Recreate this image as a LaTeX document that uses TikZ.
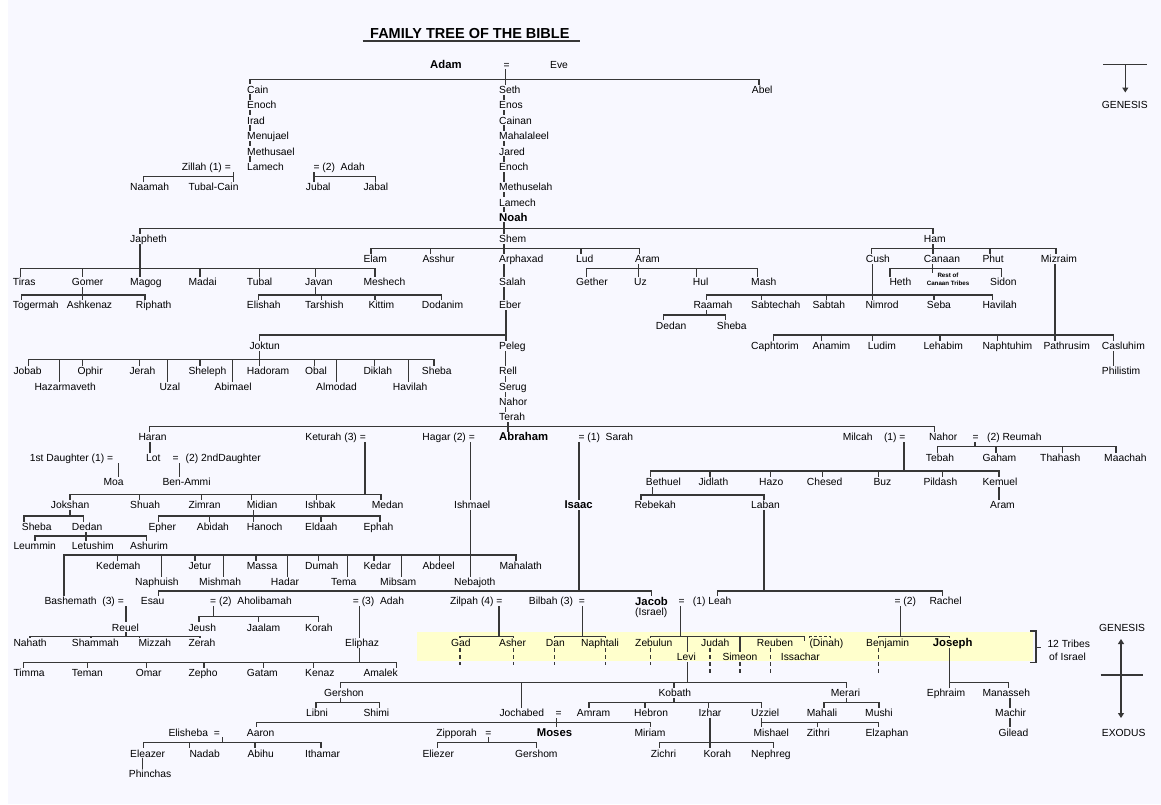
\documentclass[tikz,border=0pt]{standalone}
\usepackage{fontspec}
\setmainfont{Liberation Sans}
\usetikzlibrary{arrows.meta}
\definecolor{bgc}{RGB}{248,248,255}
\definecolor{band}{RGB}{255,255,204}
\definecolor{lnc}{RGB}{55,55,55}
\newcommand\fz{\fontsize{10.3}{12}\selectfont}
\newcommand\fbd{\fontsize{11.3}{13}\selectfont\bfseries}
\newcommand\Dn[3]{\draw[ln] (#2,#3) -- (#2,0 |- #1.north);}
\newcommand\Up[3]{\draw[ln] (#2,0 |- #1.south) -- (#2,#3);}
\newcommand\Hb[3]{\draw[ln] (#1,#3) -- (#2,#3);}
\newcommand\Lk[3]{\draw[ln] (#1,0 |- #2.south) -- (#1,0 |- #3.north);}
\begin{document}
\begin{tikzpicture}[x=1pt,y=-1pt,
  ln/.style={draw=lnc,line width=1.1pt,line cap=rect},
  dsh/.style={draw=lnc,line width=1.1pt,line cap=butt,dash pattern=on 4pt off 3pt},
  nm/.style={anchor=west,inner xsep=0pt,inner ysep=1.5pt,text height=7.4pt,text depth=0pt,font=\fz,text=black},
  nme/.style={nm,anchor=east},
  bd/.style={nm,text height=8.1pt,font=\fbd},
  tip/.style={-{Triangle[length=5pt,width=6pt]}}]
\useasboundingbox (0,0) rectangle (1161,804);
\fill[white] (0,0) rectangle (1161,804);
\fill[bgc] (7.5,0) rectangle (1161,804);
\fill[band] (417.3,632.3) rectangle (1033.3,661);

% title
\node[anchor=west,inner sep=0pt,font=\fontsize{14.5}{16}\selectfont\bfseries] (title) at (370,33.3) {FAMILY TREE OF THE BIBLE};
\draw[draw=lnc,line width=1.3pt] (362.7,41) -- (580,41);

% Adam and Eve
\node[bd] (adam) at (430,64.3) {Adam};
\node[nm] (eq0) at (503.5,64.3) {=};
\node[nm] (eve) at (550,64.3) {Eve};
\node[nm] (cain) at (247,89.3) {Cain};
\node[nm] (enochA) at (247,105) {Enoch};
\node[nm] (irad) at (247,120.3) {Irad};
\node[nm] (menujael) at (247,136) {Menujael};
\node[nm] (methusael) at (247,151.3) {Methusael};
\node[nm] (lamechA) at (247,166.7) {Lamech};
\node[nm] (seth) at (499,89.7) {Seth};
\node[nm] (enos) at (499,105) {Enos};
\node[nm] (cainan) at (499,120.3) {Cainan};
\node[nm] (mahalaleel) at (499,136) {Mahalaleel};
\node[nm] (jared) at (499,151.3) {Jared};
\node[nm] (enochB) at (499,166.7) {Enoch};
\node[nm] (methuselah) at (499,186.7) {Methuselah};
\node[nm] (lamechB) at (499,202.3) {Lamech};
\node[bd] (noah) at (499,217) {Noah};
\node[nm] (abel) at (751.7,89.7) {Abel};
\node[nme] (zillah) at (231,166.7) {Zillah (1) =};
\node[nm] (adahA) at (313.3,166.7) {= (2)~~Adah};
\node[nm] (naamah) at (130,186.7) {Naamah};
\node[nm] (tubalcain) at (188.3,186.7) {Tubal-Cain};
\node[nm] (jubal) at (305.7,186.7) {Jubal};
\node[nm] (jabal) at (363.3,186.7) {Jabal};

\Lk{505.3}{eq0}{seth}
\Hb{250}{759}{79.3}
\Dn{cain}{250}{79.3}
\Dn{abel}{759}{79.3}
\Lk{250}{cain}{enochA}
\Lk{250}{enochA}{irad}
\Lk{250}{irad}{menujael}
\Lk{250}{menujael}{methusael}
\Lk{250}{methusael}{lamechA}
\Lk{504}{seth}{enos}
\Lk{504}{enos}{cainan}
\Lk{504}{cainan}{mahalaleel}
\Lk{504}{mahalaleel}{jared}
\Lk{504}{jared}{enochB}
\Lk{504}{enochB}{methuselah}
\Lk{504}{methuselah}{lamechB}
\Lk{504}{lamechB}{noah}
\Up{zillah}{233.3}{176.7}
\Hb{143.3}{233.3}{176.7}
\Dn{naamah}{143.3}{176.7}
\Dn{tubalcain}{233.3}{176.7}
\Up{adahA}{314}{176.7}
\Hb{314}{375.7}{176.7}
\Dn{jubal}{314}{176.7}
\Dn{jabal}{375.7}{176.7}

% Noah's sons
\node[nm] (japheth) at (130,239) {Japheth};
\node[nm] (shem) at (499,239) {Shem};
\node[nm] (ham) at (923.7,239) {Ham};
\Lk{504}{noah}{shem}
\Hb{140}{933}{228.3}
\Dn{japheth}{140}{228.3}
\Dn{ham}{933}{228.3}

% Japheth
\node[nm] (tiras) at (12.7,281.7) {Tiras};
\node[nm] (gomer) at (71.7,281.7) {Gomer};
\node[nm] (magog) at (130,281.7) {Magog};
\node[nm] (madai) at (188.3,281.7) {Madai};
\node[nm] (tubal) at (246.7,281.7) {Tubal};
\node[nm] (javan) at (305,281.7) {Javan};
\node[nm] (meshech) at (363.3,281.7) {Meshech};
\Up{japheth}{140}{268.3}
\Hb{20.7}{375}{268.3}
\Dn{tiras}{20.7}{268.3}
\Dn{gomer}{82.7}{268.3}
\Dn{magog}{140}{268.3}
\Dn{madai}{200}{268.3}
\Dn{tubal}{259.7}{268.3}
\Dn{javan}{315.3}{268.3}
\Dn{meshech}{375}{268.3}
\node[nm] (togermah) at (12.7,305) {Togermah};
\node[nm] (ashkenaz) at (66.7,305) {Ashkenaz};
\node[nm] (riphath) at (135.7,305) {Riphath};
\Up{gomer}{82.7}{295}
\Hb{21.7}{145}{295}
\Dn{togermah}{21.7}{295}
\Dn{ashkenaz}{82.7}{295}
\Dn{riphath}{145}{295}
\node[nm] (elishah) at (246.7,305) {Elishah};
\node[nm] (tarshish) at (305,305) {Tarshish};
\node[nm] (kittim) at (368.3,305) {Kittim};
\node[nm] (dodanim) at (421.7,305) {Dodanim};
\Up{javan}{315.3}{295}
\Hb{258.3}{441.7}{295}
\Dn{elishah}{258.3}{295}
\Dn{tarshish}{321.7}{295}
\Dn{kittim}{375}{295}
\Dn{dodanim}{441.7}{295}

% Shem
\node[nm] (elam) at (363.3,258.7) {Elam};
\node[nm] (asshur) at (422.3,258.7) {Asshur};
\node[nm] (arphaxad) at (499,258.7) {Arphaxad};
\node[nm] (lud) at (576,258.7) {Lud};
\node[nm] (aramA) at (635,258.7) {Aram};
\Lk{504}{shem}{arphaxad}
\Hb{371}{639.3}{248.3}
\Dn{elam}{371}{248.3}
\Dn{asshur}{430.7}{248.3}
\Dn{lud}{581}{248.3}
\Dn{aramA}{639.3}{248.3}
\node[nm] (gether) at (576,281.7) {Gether};
\node[nm] (uz) at (634,281.7) {Uz};
\node[nm] (hul) at (692.7,281.7) {Hul};
\node[nm] (mash) at (751,281.7) {Mash};
\Up{aramA}{638.3}{268.3}
\Hb{586.7}{757.7}{268.3}
\Dn{gether}{586.7}{268.3}
\Dn{uz}{638.3}{268.3}
\Dn{hul}{696.7}{268.3}
\Dn{mash}{757.7}{268.3}
\node[nm] (salah) at (499,281.7) {Salah};
\node[nm] (eber) at (499,305) {Eber};
\Lk{504}{arphaxad}{salah}
\Lk{504}{salah}{eber}
\node[nm] (peleg) at (499,346) {Peleg};
\node[nm] (joktun) at (249.3,346) {Joktun};
\Lk{506}{eber}{peleg}
\Hb{259.3}{506}{335}
\Dn{joktun}{259.3}{335}

% Joktun
\node[nm] (jobab) at (13.3,370.7) {Jobab};
\node[nm] (ophir) at (77.3,370.7) {Ophir};
\node[nm] (jerah) at (129.3,370.7) {Jerah};
\node[nm] (sheleph) at (188.3,370.7) {Sheleph};
\node[nm] (hadoram) at (246.7,370.7) {Hadoram};
\node[nm] (obal) at (305,370.7) {Obal};
\node[nm] (diklah) at (363.3,370.7) {Diklah};
\node[nm] (shebaA) at (421.7,370.7) {Sheba};
\node[nm] (hazarmaveth) at (34.3,386.7) {Hazarmaveth};
\node[nm] (uzal) at (159.3,386.7) {Uzal};
\node[nm] (abimael) at (214.3,386.7) {Abimael};
\node[nm] (almodad) at (316,386.7) {Almodad};
\node[nm] (havilahA) at (392.7,386.7) {Havilah};
\Lk{259.3}{joktun}{hadoram}
\Hb{28.3}{434}{359.3}
\Dn{jobab}{28.3}{359.3}
\Dn{ophir}{82.3}{359.3}
\Dn{jerah}{139.3}{359.3}
\Dn{sheleph}{200}{359.3}
\Dn{obal}{314.3}{359.3}
\Dn{diklah}{374.3}{359.3}
\Dn{shebaA}{434}{359.3}
\Dn{hazarmaveth}{59.3}{359.3}
\Dn{uzal}{167.7}{359.3}
\Dn{abimael}{232.7}{359.3}
\Dn{almodad}{336.7}{359.3}
\Dn{havilahA}{408.3}{359.3}

% Peleg to Terah
\node[nm] (rell) at (499,370.7) {Rell};
\node[nm] (serug) at (499,386.7) {Serug};
\node[nm] (nahorA) at (499,401.7) {Nahor};
\node[nm] (terah) at (499,417) {Terah};
\Lk{505.7}{peleg}{rell}
\Lk{505.7}{rell}{serug}
\Lk{505.7}{serug}{nahorA}
\Lk{505.7}{nahorA}{terah}

% Terah's generation
\node[nm] (haran) at (138.3,436.7) {Haran};
\node[nme] (keturah) at (366,436.7) {Keturah (3) =};
\node[nme] (hagar) at (475,436.7) {Hagar (2) =};
\node[bd] (abraham) at (499,436.7) {Abraham};
\node[nm] (sarah) at (578.3,436.7) {= (1)~~Sarah};
\node[nme] (milcah) at (905.7,436.7) {Milcah~~~~(1) =};
\node[nm] (nahorB) at (929,436.7) {Nahor};
\node[nm] (reumah) at (972.3,436.7) {=~~~(2) Reumah};
\Lk{508}{terah}{abraham}
\Hb{149.3}{934.3}{426.7}
\Dn{haran}{149.3}{426.7}
\Dn{nahorB}{934.3}{426.7}

% Lot
\node[nm] (lot) at (146,457.7) {Lot};
\node[nm] (lotw) at (172.5,457.7) {=\hspace{7pt}(2) 2ndDaughter};
\node[nme] (daughter) at (113.3,457.7) {1st Daughter (1) =};
\node[nm] (moa) at (103.3,481.7) {Moa};
\node[nm] (benammi) at (162.3,481.7) {Ben-Ammi};
\Lk{150}{haran}{lot}
\Lk{118.3}{daughter}{moa}
\Lk{179.3}{lotw}{benammi}

% Keturah
\node[nm] (jokshan) at (50.7,504.7) {Jokshan};
\node[nm] (shuah) at (130,504.7) {Shuah};
\node[nm] (zimran) at (188.3,504.7) {Zimran};
\node[nm] (midian) at (246.7,504.7) {Midian};
\node[nm] (ishbak) at (305,504.7) {Ishbak};
\node[nm] (medan) at (371.7,504.7) {Medan};
\Up{keturah}{365}{494.3}
\Hb{70}{381}{494.3}
\Dn{jokshan}{70}{494.3}
\Dn{shuah}{139.3}{494.3}
\Dn{zimran}{201.7}{494.3}
\Dn{midian}{251.7}{494.3}
\Dn{ishbak}{316.7}{494.3}
\Dn{medan}{381}{494.3}
\node[nm] (shebaB) at (21.7,526.7) {Sheba};
\node[nm] (dedanA) at (71.7,526.7) {Dedan};
\Up{jokshan}{70}{516}
\Hb{24}{83.3}{516}
\Dn{shebaB}{24}{516}
\Dn{dedanA}{83.3}{516}
\node[nm] (leummin) at (13.3,546) {Leummin};
\node[nm] (letushim) at (71.7,546) {Letushim};
\node[nm] (ashurim) at (130,546) {Ashurim};
\Up{dedanA}{86}{536}
\Hb{35}{146.7}{536}
\Dn{leummin}{35}{536}
\Dn{letushim}{86}{536}
\Dn{ashurim}{146.7}{536}
\node[nm] (epher) at (148.3,526.7) {Epher};
\node[nm] (abidah) at (196.7,526.7) {Abidah};
\node[nm] (hanoch) at (246.7,526.7) {Hanoch};
\node[nm] (eldaah) at (305,526.7) {Eldaah};
\node[nm] (ephah) at (363.3,526.7) {Ephah};
\Up{midian}{253.3}{516}
\Hb{158.3}{380}{516}
\Dn{epher}{158.3}{516}
\Dn{abidah}{209.3}{516}
\Dn{hanoch}{253.3}{516}
\Dn{eldaah}{321}{516}
\Dn{ephah}{380}{516}

% Ishmael
\node[nm] (ishmael) at (454,504.7) {Ishmael};
\Lk{470.7}{hagar}{ishmael}
\Up{ishmael}{470.7}{555}
\Hb{64}{516}{555}
\node[nm] (kedemah) at (96,566) {Kedemah};
\node[nm] (jetur) at (188.3,566) {Jetur};
\node[nm] (massa) at (246.7,566) {Massa};
\node[nm] (dumah) at (305,566) {Dumah};
\node[nm] (kedar) at (363.3,566) {Kedar};
\node[nm] (abdeel) at (422.3,566) {Abdeel};
\node[nm] (mahalath) at (499.3,566) {Mahalath};
\node[nm] (naphuish) at (135,582) {Naphuish};
\node[nm] (mishmah) at (199,582) {Mishmah};
\node[nm] (hadar) at (270.7,582) {Hadar};
\node[nm] (tema) at (331,582) {Tema};
\node[nm] (mibsam) at (380,582) {Mibsam};
\node[nm] (nebajoth) at (454,582) {Nebajoth};
\Dn{kedemah}{117.3}{555}
\Dn{jetur}{195}{555}
\Dn{massa}{256}{555}
\Dn{dumah}{318.3}{555}
\Dn{kedar}{374}{555}
\Dn{abdeel}{439.3}{555}
\Dn{mahalath}{516}{555}
\Dn{naphuish}{161.7}{555}
\Dn{mishmah}{223.3}{555}
\Dn{hadar}{287.3}{555}
\Dn{tema}{347.7}{555}
\Dn{mibsam}{401.7}{555}
\Dn{nebajoth}{470.7}{555}
\node[nme] (bashemath) at (124,601) {Bashemath~~(3) =};
\Dn{bashemath}{64}{555}

% Isaac
\node[bd] (isaac) at (564.3,504.7) {Isaac};
\Lk{579}{sarah}{isaac}
\Up{isaac}{579}{591}
\Hb{158.3}{651.7}{591}
\node[nm] (esau) at (140.7,601) {Esau};
\node[bd] (jacob) at (635,601) {Jacob};
\node[nm] (israel) at (635,612) {(Israel)};
\node[nm] (jeq) at (678.5,601) {=};
\node[nm] (leah) at (692.7,601) {(1) Leah};
\node[nm] (req) at (894.3,601) {= (2)};
\node[nm] (rachel) at (929.3,601) {Rachel};
\Dn{esau}{158.3}{591}
\Dn{jacob}{651.7}{591}

% Nahor and Milcah
\node[nm] (bethuel) at (645.7,481.7) {Bethuel};
\node[nm] (jidlath) at (698.3,481.7) {Jidlath};
\node[nm] (hazo) at (759,481.7) {Hazo};
\node[nm] (chesed) at (806.7,481.7) {Chesed};
\node[nm] (buz) at (873.3,481.7) {Buz};
\node[nm] (pildash) at (923.3,481.7) {Pildash};
\node[nm] (kemuel) at (982.3,481.7) {Kemuel};
\node[nm] (aramB) at (990,504.7) {Aram};
\Up{milcah}{904}{471}
\Hb{650.7}{999}{471}
\Dn{bethuel}{650.7}{471}
\Dn{jidlath}{710}{471}
\Dn{hazo}{770.7}{471}
\Dn{chesed}{822.7}{471}
\Dn{buz}{878.3}{471}
\Dn{pildash}{942.3}{471}
\Dn{kemuel}{999}{471}
\Lk{999}{kemuel}{aramB}
\node[nm] (rebekah) at (634.3,504.7) {Rebekah};
\node[nm] (laban) at (751,504.7) {Laban};
\Up{bethuel}{652.7}{495}
\Hb{641}{764}{495}
\Dn{rebekah}{641}{495}
\Dn{laban}{764}{495}
\Up{laban}{764}{591}
\Hb{717.7}{942.7}{591}
\Dn{leah}{717.7}{591}
\Dn{rachel}{942.7}{591}

% Nahor and Reumah
\node[nm] (tebah) at (925.7,457.7) {Tebah};
\node[nm] (gaham) at (982.3,457.7) {Gaham};
\node[nm] (thahash) at (1040,457.7) {Thahash};
\node[nm] (maachah) at (1104,457.7) {Maachah};
\Up{reumah}{975}{446.7}
\Hb{937.7}{1116}{446.7}
\Dn{tebah}{937.7}{446.7}
\Dn{gaham}{996}{446.7}
\Dn{thahash}{1062.7}{446.7}
\Dn{maachah}{1116}{446.7}

% Esau's wives
\node[nm] (aholibamah) at (210,601) {= (2)~~Aholibamah};
\node[nm] (adahB) at (352.7,601) {= (3)~~Adah};
\node[nm] (reuel) at (111.7,627.3) {Reuel};
\Lk{126}{bashemath}{reuel}
\Up{reuel}{126}{636.7}
\Hb{30}{200}{636.7}
\node[nm] (nahath) at (13.3,642.7) {Nahath};
\node[nm] (shammah) at (71.7,642.7) {Shammah};
\node[nm] (mizzah) at (138.3,642.7) {Mizzah};
\node[nm] (zerah) at (188.3,642.7) {Zerah};
\Dn{nahath}{30}{636.7}
\Dn{shammah}{91}{636.7}
\Dn{mizzah}{139.3}{636.7}
\Dn{zerah}{200}{636.7}
\node[nm] (jeush) at (188.3,627.3) {Jeush};
\node[nm] (jaalam) at (246.7,627.3) {Jaalam};
\node[nm] (korahA) at (305,627.3) {Korah};
\Up{aholibamah}{213.3}{616.7}
\Hb{199}{318.3}{616.7}
\Dn{jeush}{199}{616.7}
\Dn{jaalam}{258.3}{616.7}
\Dn{korahA}{318.3}{616.7}
\node[nm] (eliphaz) at (345,642.7) {Eliphaz};
\Lk{359.3}{adahB}{eliphaz}
\Up{eliphaz}{359.3}{662.7}
\Hb{23.3}{396.7}{662.7}
\node[nm] (timma) at (13.3,672.7) {Timma};
\node[nm] (teman) at (71.7,672.7) {Teman};
\node[nm] (omar) at (135.7,672.7) {Omar};
\node[nm] (zepho) at (188.3,672.7) {Zepho};
\node[nm] (gatam) at (246.7,672.7) {Gatam};
\node[nm] (kenaz) at (305,672.7) {Kenaz};
\node[nm] (amalek) at (363.3,672.7) {Amalek};
\Dn{timma}{23.3}{662.7}
\Dn{teman}{87.3}{662.7}
\Dn{omar}{146.7}{662.7}
\Dn{zepho}{204}{662.7}
\Dn{gatam}{263.3}{662.7}
\Dn{kenaz}{313.3}{662.7}
\Dn{amalek}{396.7}{662.7}

% Jacob's wives and the 12 tribes
\node[nme] (zilpah) at (502.7,601) {Zilpah (4) =};
\node[nme] (bilhah) at (585,601) {Bilbah (3)~~=};
\node[nm] (gad) at (451,642.7) {Gad};
\node[nm] (asher) at (499,642.7) {Asher};
\node[nm] (dan) at (545.7,642.7) {Dan};
\node[nm] (naphtali) at (581,642.7) {Naphtali};
\node[nm] (zebulun) at (635,642.7) {Zebulun};
\node[nm] (judah) at (701,642.7) {Judah};
\node[nm] (reuben) at (756.7,642.7) {Reuben};
\node[nm] (dinah) at (809.3,642.7) {(Dinah)};
\node[nm] (benjamin) at (866,642.7) {Benjamin};
\node[bd] (joseph) at (932.7,642.7) {Joseph};
\node[nm] (levi) at (676.7,656.7) {Levi};
\node[nm] (simeon) at (722.3,656.7) {Simeon};
\node[nm] (issachar) at (780.7,656.7) {Issachar};
\Up{zilpah}{499}{636.7}
\Hb{460}{513.3}{636.7}
\Dn{gad}{460}{636.7}
\Dn{asher}{513.3}{636.7}
\Up{bilhah}{582.3}{636.7}
\Hb{554.3}{605.3}{636.7}
\Dn{dan}{554.3}{636.7}
\Dn{naphtali}{605.3}{636.7}
\Up{jeq}{680.7}{636.7}
\Hb{650.7}{804.3}{636.7}
\Dn{zebulun}{650.7}{636.7}
\Dn{levi}{687.3}{636.7}
\Dn{simeon}{740}{636.7}
\coordinate (isstick) at (804.3,640.5);
\draw[ln] (804.3,636.7) -- (isstick);
\draw[dsh,dash pattern=on 3pt off 2pt] (809.3,0 |- dinah.north) -- (809.3,636.7) -- (830.7,636.7) -- (830.7,0 |- dinah.north);
\Up{req}{900.7}{636.7}
\Hb{878.3}{949.3}{636.7}
\Dn{benjamin}{878.3}{636.7}
\Dn{joseph}{949.3}{636.7}
\draw[dsh] (460,0 |- gad.south) -- (460,665);
\draw[dsh] (513.3,0 |- asher.south) -- (513.3,665);
\draw[dsh] (554.3,0 |- dan.south) -- (554.3,665);
\draw[dsh] (605.3,0 |- naphtali.south) -- (605.3,665);
\draw[dsh] (650.7,0 |- zebulun.south) -- (650.7,665);
\draw[dsh] (710,0 |- judah.south) -- (710,675);
\draw[dsh] (740,0 |- simeon.south) -- (740,675);
\draw[dsh] (770.7,0 |- reuben.south) -- (770.7,675);
\draw[dsh] (878.3,0 |- benjamin.south) -- (878.3,675);

% bracket
\node[nm] (tribes1) at (1047.3,643.3) {12 Tribes};
\node[nm] (tribes2) at (1049,656.7) {of Israel};
\draw[ln,line cap=butt] (1030,631) -- (1036,631) -- (1036,662.7) -- (1030,662.7);
\draw[ln,line cap=butt] (1036,647.7) -- (1041,647.7);

% Joseph's sons
\node[nm] (ephraim) at (926.7,692.7) {Ephraim};
\node[nm] (manasseh) at (982.3,692.7) {Manasseh};
\node[nm] (machir) at (995,712.7) {Machir};
\node[nm] (gilead) at (998.3,732.3) {Gilead};
\Lk{949.3}{joseph}{ephraim}
\Hb{949.3}{1008.3}{682.7}
\Dn{manasseh}{1008.3}{682.7}
\Lk{1010}{manasseh}{machir}
\Lk{1010}{machir}{gilead}

% Levi
\node[nm] (gershon) at (324,692.7) {Gershon};
\node[nm] (kohath) at (658.3,692.7) {Kobath};
\node[nm] (merari) at (830.7,692.7) {Merari};
\node[nm] (jochabed) at (499.3,712.7) {Jochabed};
\Up{levi}{687.3}{682.3}
\Hb{340.7}{846.7}{682.3}
\Dn{gershon}{340.7}{682.3}
\Dn{jochabed}{521.7}{682.3}
\Dn{kohath}{674}{682.3}
\Dn{merari}{846.7}{682.3}
\node[nm] (libni) at (306,712.7) {Libni};
\node[nm] (shimi) at (363.3,712.7) {Shimi};
\Up{gershon}{340.7}{702.7}
\Hb{316}{379.3}{702.7}
\Dn{libni}{316}{702.7}
\Dn{shimi}{379.3}{702.7}
\node[nm] (amram) at (576.7,712.7) {Amram};
\node[nm] (hebron) at (634,712.7) {Hebron};
\node[nm] (izhar) at (698.3,712.7) {Izhar};
\node[nm] (uzziel) at (751,712.7) {Uzziel};
\Up{kohath}{674}{702.7}
\Hb{589}{761.7}{702.7}
\Dn{amram}{589}{702.7}
\Dn{hebron}{645}{702.7}
\Dn{izhar}{708.3}{702.7}
\Dn{uzziel}{761.7}{702.7}
\node[nm] (mahali) at (806.7,712.7) {Mahali};
\node[nm] (mushi) at (865,712.7) {Mushi};
\Up{merari}{846.7}{702.7}
\Hb{824}{879}{702.7}
\Dn{mahali}{824}{702.7}
\Dn{mushi}{879}{702.7}

% Amram and Jochabed
\node[nm] (jeqB) at (555.3,712.7) {=};
\node[bd] (moses) at (536.7,732.3) {Moses};
\node[nm] (aaron) at (246.7,732.3) {Aaron};
\node[nm] (miriam) at (634.3,732.3) {Miriam};
\Lk{556.7}{jeqB}{moses}
\Hb{256.7}{650.7}{722.3}
\Dn{aaron}{256.7}{722.3}
\Dn{miriam}{650.7}{722.3}

% Uzziel, Izhar
\node[nm] (mishael) at (753.3,732.3) {Mishael};
\node[nm] (zithri) at (806.7,732.3) {Zithri};
\node[nm] (elzaphan) at (865.3,732.3) {Elzaphan};
\Lk{761.7}{uzziel}{mishael}
\Hb{761.7}{878.3}{722.3}
\Dn{zithri}{817.3}{722.3}
\Dn{elzaphan}{878.3}{722.3}
\node[nm] (zichri) at (650.7,753.3) {Zichri};
\node[nm] (korahB) at (703.3,753.3) {Korah};
\node[nm] (nephreg) at (751,753.3) {Nephreg};
\Lk{710}{izhar}{korahB}
\Hb{659.3}{773.3}{742.7}
\Dn{zichri}{659.3}{742.7}
\Dn{nephreg}{773.3}{742.7}

% Aaron
\node[nme] (elisheba) at (220,732.3) {Elisheba~~=};
\node[nm] (eleazar) at (130,753.3) {Eleazer};
\node[nm] (nadab) at (189.3,753.3) {Nadab};
\node[nm] (abihu) at (247.3,753.3) {Abihu};
\node[nm] (ithamar) at (305,753.3) {Ithamar};
\node[nm] (phinchas) at (128.7,774) {Phinchas};
\Up{elisheba}{222.7}{742.7}
\Hb{143.3}{321}{742.7}
\Dn{eleazar}{143.3}{742.7}
\Dn{nadab}{189.3}{742.7}
\Dn{abihu}{255}{742.7}
\Dn{ithamar}{321}{742.7}
\Lk{142.7}{eleazar}{phinchas}

% Moses
\node[nme] (zipporah) at (491.7,732.3) {Zipporah~~~=};
\node[nm] (eliezer) at (422.3,753.3) {Eliezer};
\node[nm] (gershom) at (515,753.3) {Gershom};
\Up{zipporah}{488.3}{742.7}
\Hb{437.3}{536.7}{742.7}
\Dn{eliezer}{437.3}{742.7}
\Dn{gershom}{536.7}{742.7}

% Ham
\node[nm] (cush) at (865.7,258.7) {Cush};
\node[nm] (canaan) at (923.7,258.7) {Canaan};
\node[nm] (phut) at (982.3,258.7) {Phut};
\node[nm] (mizraim) at (1040.7,258.7) {Mizraim};
\Lk{933}{ham}{canaan}
\Hb{871.7}{1056}{248.3}
\Dn{cush}{871.7}{248.3}
\Dn{phut}{990}{248.3}
\Dn{mizraim}{1056}{248.3}
\node[nm] (heth) at (889.3,281.7) {Heth};
\node[nm] (sidon) at (990,281.7) {Sidon};
\node[anchor=center,align=center,inner sep=0.5pt,font=\fontsize{6.2}{8.3}\selectfont\bfseries] (rest) at (948,279.5) {Rest of\\Canaan Tribes};
\Lk{932.7}{canaan}{rest}
\Hb{890}{1001.7}{268.3}
\Dn{heth}{890}{268.3}
\Dn{sidon}{1001.7}{268.3}
\node[nm] (raamah) at (693.3,305) {Raamah};
\node[nm] (sabtechah) at (751,305) {Sabtechah};
\node[nm] (sabtah) at (812.3,305) {Sabtah};
\node[nm] (nimrod) at (865.3,305) {Nimrod};
\node[nm] (seba) at (926.7,305) {Seba};
\node[nm] (havilahB) at (982.3,305) {Havilah};
\Lk{872.7}{cush}{nimrod}
\Hb{706.7}{992.3}{295}
\Dn{raamah}{706.7}{295}
\Dn{sabtechah}{761.7}{295}
\Dn{sabtah}{826.7}{295}
\Dn{seba}{934}{295}
\Dn{havilahB}{992.3}{295}
\node[nm] (dedanB) at (655.7,325.3) {Dedan};
\node[nm] (shebaC) at (716.7,325.3) {Sheba};
\Up{raamah}{706.7}{315}
\Hb{663.3}{725.7}{315}
\Dn{dedanB}{663.3}{315}
\Dn{shebaC}{725.7}{315}
\node[nm] (caphtorim) at (751,346) {Caphtorim};
\node[nm] (anamim) at (812.3,346) {Anamim};
\node[nm] (ludim) at (867.7,346) {Ludim};
\node[nm] (lehabim) at (923.3,346) {Lehabim};
\node[nm] (naphtuhim) at (982.3,346) {Naphtuhim};
\node[nm] (pathrusim) at (1043.3,346) {Pathrusim};
\node[nm] (casluhim) at (1101.7,346) {Casluhim};
\node[nm] (philistim) at (1101.7,370.7) {Philistim};
\Lk{1055}{mizraim}{pathrusim}
\Hb{773.3}{1113.3}{335}
\Dn{caphtorim}{773.3}{335}
\Dn{anamim}{821.7}{335}
\Dn{ludim}{872.7}{335}
\Dn{lehabim}{940}{335}
\Dn{naphtuhim}{997.3}{335}
\Dn{casluhim}{1113.3}{335}
\Lk{1113.3}{casluhim}{philistim}

% Genesis / Exodus markers
\node[nm] (gen1) at (1101.7,104.3) {GENESIS};
\coordinate (g1a) at (1103.3,64.3);
\coordinate (g1b) at (1146.7,64.3);
\coordinate (g1c) at (1125.3,64.3);
\coordinate (g1d) at (1125.3,92.5);
\draw[ln,line cap=butt] (g1a) -- (g1b);
\draw[ln,line cap=butt,tip] (g1c) -- (g1d);
\node[nm] (gen2) at (1099,627.3) {GENESIS};
\node[nm] (exodus) at (1101.7,732.3) {EXODUS};
\coordinate (g2a) at (1121,639);
\coordinate (g2b) at (1121,718);
\coordinate (g2c) at (1100.7,675);
\coordinate (g2d) at (1143.3,675);
\draw[ln,line cap=butt,{Triangle[length=5pt,width=6pt]}-{Triangle[length=5pt,width=6pt]}] (g2a) -- (g2b);
\draw[ln,line cap=butt] (g2c) -- (g2d);
\end{tikzpicture}
\end{document}
